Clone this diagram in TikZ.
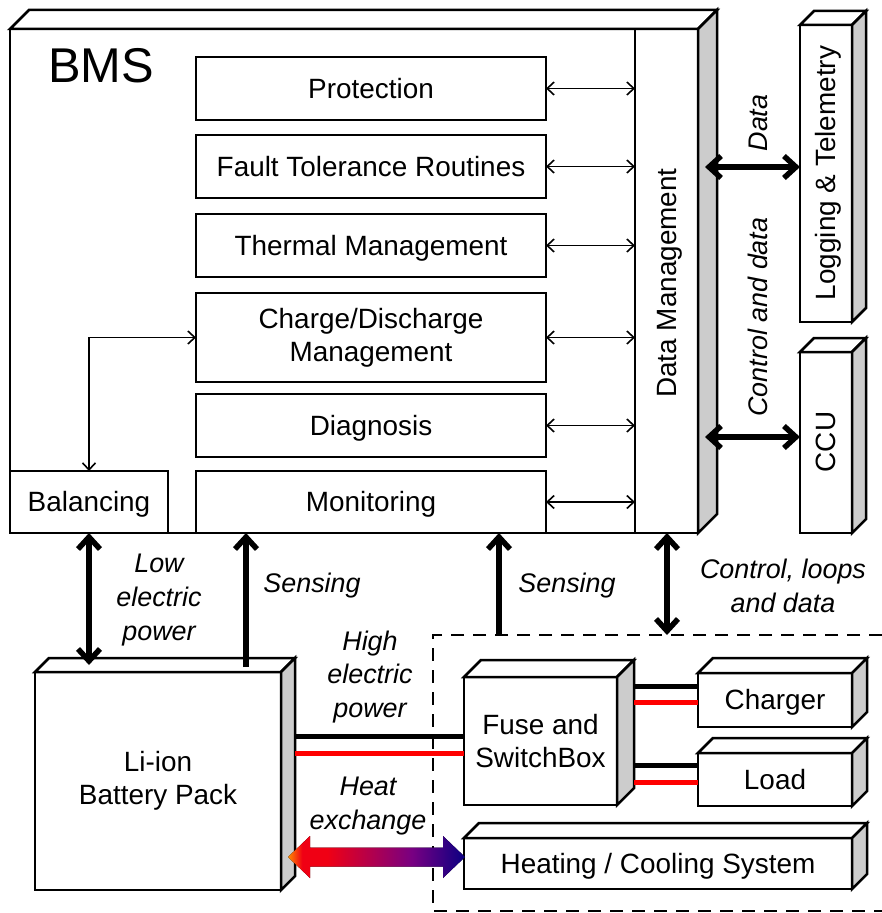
\documentclass[tikz,border=0pt]{standalone}
\usepackage{fontspec}
\setmainfont{Liberation Sans}
\usetikzlibrary{arrows.meta,calc}
\definecolor{sidegray}{RGB}{204,204,204}
\definecolor{wirered}{RGB}{255,0,0}
\definecolor{hOrange}{RGB}{255,140,0}
\definecolor{hRed}{RGB}{240,0,20}
\definecolor{hPurple}{RGB}{120,0,130}
\definecolor{hNavy}{RGB}{10,0,130}
\pgfdeclarehorizontalshading{heatshade}{100bp}{color(0bp)=(hOrange); color(25bp)=(hOrange); color(29bp)=(hRed); color(36bp)=(hRed); color(60bp)=(hPurple); color(75bp)=(hNavy); color(100bp)=(hNavy)}
\newcommand\depthbox[2]{%
  \filldraw[boxline, fill=white] (#1.north west) -- ++(#2,-#2) -- ($(#1.north east)+(#2,-#2)$) -- (#1.north east) -- cycle;
  \filldraw[boxline, fill=sidegray] (#1.north east) -- ($(#1.north east)+(#2,-#2)$) -- ($(#1.south east)+(#2,-#2)$) -- (#1.south east) -- cycle;
}
\tikzset{
  boxline/.style={line width=2.5bp, draw=black, line join=miter},
  blk/.style={boxline, fill=white, rectangle, inner sep=0pt, outer sep=0pt, font=\fontsize{28}{33}\selectfont, align=center},
  oneline/.style={text height=25.3bp, text depth=5.9bp},
  onelbl/.style={text height=24.4bp, text depth=5.7bp},
  txt/.style={font=\fontsize{28}{33}\selectfont, align=center, inner sep=0pt},
  lbl/.style={font=\fontsize{27}{34}\selectfont\itshape, align=center, inner sep=0pt},
  thinarr/.style={line width=1.6bp, {Straight Barb[length=7bp,width=13bp]}-{Straight Barb[length=7bp,width=13bp]}},
  thickdbl/.style={line width=5.5bp, {Straight Barb[length=12bp,width=22bp]}-{Straight Barb[length=12bp,width=22bp]}},
  thicksgl/.style={line width=5.5bp, -{Straight Barb[length=12bp,width=22bp]}},
  wireblk/.style={line width=5bp, draw=black},
  wirered/.style={line width=5bp, draw=wirered},
  dashline/.style={line width=2.2bp, dash pattern=on 13bp off 9bp},
}
\begin{document}
\begin{tikzpicture}[x=1bp, y=-1bp]
\useasboundingbox (0,0) rectangle (882,913);

% dashed region
\draw[dashline] (882,635) -- (433,635) -- (433,911) -- (882,911);

% BMS
\node[blk, minimum width=688bp, minimum height=504bp] (bms) at (354,281) {};
\depthbox{bms}{19}
\node[font=\fontsize{49}{55}\selectfont, inner sep=0pt] (bmslabel) at (101,66) {BMS};
\coordinate (dmx) at (635,281);
\draw[boxline] (bms.north -| dmx) -- (bms.south -| dmx);
\node[txt, oneline, rotate=90] (dmtext) at (667,283) {Data Management};

\node[blk, oneline, minimum width=350bp, minimum height=63bp] (prot) at (371,88.5) {Protection};
\node[blk, oneline, minimum width=350bp, minimum height=63bp] (fault) at (371,166.5) {Fault Tolerance Routines};
\node[blk, oneline, minimum width=350bp, minimum height=63bp] (therm) at (371,245.5) {Thermal Management};
\node[blk, minimum width=350bp, minimum height=89bp] (charge) at (371,337.5) {Charge/Discharge\\Management};
\node[blk, oneline, minimum width=350bp, minimum height=63bp] (diag) at (371,425.5) {Diagnosis};
\node[blk, oneline, minimum width=350bp, minimum height=62bp] (mon) at (371,502) {Monitoring};
\node[blk, oneline, minimum width=158bp, minimum height=62bp] (bal) at (89,502) {Balancing};

\foreach \n in {prot,fault,therm,charge,diag,mon}
  \draw[thinarr] (\n.east) -- (\n.east -| dmx);
\draw[thinarr] (charge.west) -| (bal.north);

% right boxes
\node[blk, minimum width=52bp, minimum height=297bp] (log) at (826,173.5) {};
\depthbox{log}{14}
\node[txt, oneline, rotate=90] (logtext) at (826,173) {Logging \& Telemetry};
\node[blk, minimum width=52bp, minimum height=181bp] (ccu) at (826,442.5) {};
\depthbox{ccu}{14}
\node[txt, oneline, rotate=90] (ccutext) at (826,442) {CCU};

\coordinate (dataA) at (705,167);
\draw[thickdbl] (dataA) -- (dataA -| log.west);
\node[lbl, onelbl, rotate=90] (datalbl) at (758,123) {Data};
\coordinate (ccuA) at (705,437);
\draw[thickdbl] (ccuA) -- (ccuA -| ccu.west);
\node[lbl, onelbl, rotate=90] (ctrllbl) at (758,317) {Control and data};

% lower boxes
\node[blk, minimum width=246bp, minimum height=218bp] (batt) at (158,781) {Li-ion\\Battery Pack};
\depthbox{batt}{14}
\node[blk, minimum width=153bp, minimum height=128bp] (fuse) at (540.5,741) {Fuse and\\SwitchBox};
\depthbox{fuse}{17}
\node[blk, oneline, minimum width=154bp, minimum height=54bp] (chg) at (775,700) {Charger};
\depthbox{chg}{15}
\node[blk, oneline, minimum width=154bp, minimum height=53bp] (load) at (775,779.5) {Load};
\depthbox{load}{15}
\node[blk, oneline, minimum width=388bp, minimum height=51bp] (heat) at (658,863.5) {Heating / Cooling System};
\depthbox{heat}{15}

% vertical arrows
\coordinate (battTopL) at (89,665);
\draw[thickdbl] (bal.south) -- (battTopL);
\node[lbl] (lowlbl) at (159,600) {Low\\electric\\power};
\coordinate (sens1) at (246,667);
\draw[thicksgl] (sens1) -- (sens1 |- bms.south);
\node[lbl, onelbl] (sens1lbl) at (312,583) {Sensing};
\coordinate (sens2) at (499,635);
\draw[thicksgl] (sens2) -- (sens2 |- bms.south);
\node[lbl, onelbl] (sens2lbl) at (567,583) {Sensing};
\coordinate (ctl) at (667,635);
\draw[thickdbl] (ctl |- bms.south) -- (ctl);
\node[lbl] (ctllbl) at (783,586) {Control, loops\\and data};

% wires
\coordinate (w1) at (295,736);
\coordinate (w2) at (295,753);
\draw[wireblk] (w1) -- (w1 -| fuse.west);
\draw[wirered] (w2) -- (w2 -| fuse.west);
\node[lbl] (highlbl) at (370,677) {High\\electric\\power};
\coordinate (c1) at (634,686);
\coordinate (c2) at (634,702);
\draw[wireblk] (c1) -- (c1 -| chg.west);
\draw[wirered] (c2) -- (c2 -| chg.west);
\coordinate (l1) at (634,765);
\coordinate (l2) at (634,782);
\draw[wireblk] (l1) -- (l1 -| load.west);
\draw[wirered] (l2) -- (l2 -| load.west);

% heat exchange arrow
\coordinate (heatL) at (288,857);
\coordinate (heatR) at (465,857);
\fill[shading=heatshade] (heatL) -- ++(22,-21) -- ++(0,11.5) -- ($(heatR)+(-22,-9.5)$) -- ++(0,-11.5) -- (heatR) -- ++(-22,21) -- ++(0,-11.5) -- ($(heatL)+(22,9.5)$) -- ++(0,11.5) -- cycle;
\node[lbl] (heatlbl) at (368,806) {Heat\\exchange};
\end{tikzpicture}
\end{document}
